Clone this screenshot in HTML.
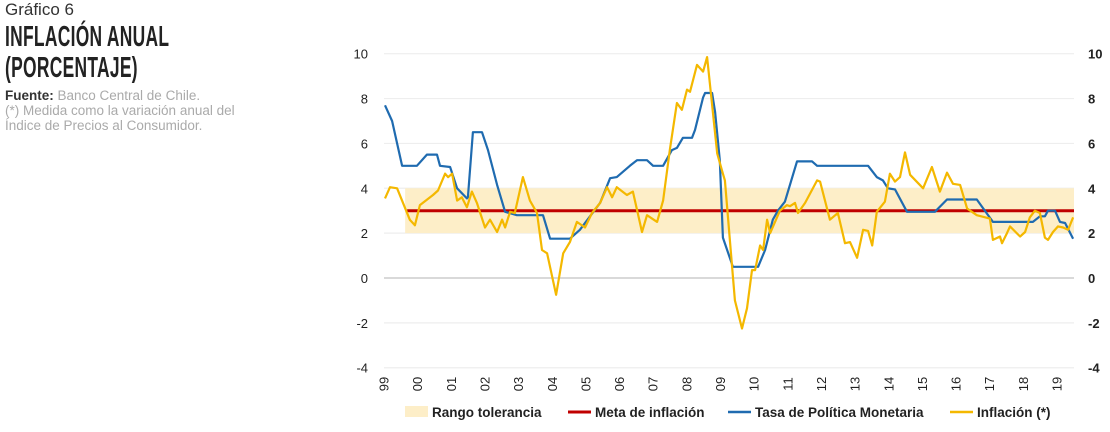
<!DOCTYPE html>
<html><head><meta charset="utf-8"><style>
body{margin:0;width:1110px;height:432px;background:#fff;overflow:hidden;font-family:"Liberation Sans",sans-serif;position:relative}
.t1{position:absolute;left:5px;top:0px;font-size:17px;color:#333}
.t2{position:absolute;left:5px;top:22px;font-size:29px;font-weight:bold;color:#222;line-height:31px;transform:scaleX(0.6);transform-origin:0 0;white-space:nowrap;letter-spacing:0.5px}
.src{position:absolute;left:5px;top:88px;font-size:13.5px;line-height:15px;color:#aaa;white-space:nowrap}
.src b{color:#333}
</style></head><body>
<div class="t1">Gráfico 6</div>
<div class="t2">INFLACIÓN ANUAL<br>(PORCENTAJE)</div>
<div class="src"><b>Fuente:</b> Banco Central de Chile.<br>(*) Medida como la variación anual del<br>Índice de Precios al Consumidor.</div>
<svg id="chart" width="1110" height="432" style="position:absolute;left:0;top:0"></svg>
<script>
const yTicks=[-4,-2,0,2,4,6,8,10];
const yearLabels=["99","00","01","02","03","04","05","06","07","08","09","10","11","12","13","14","15","16","17","18","19"];
const bandLow=2, bandHigh=4, bandStart=0.63, target=3, targetStart=0.69;
const tpmT=[0.03,0.24,0.54,0.98,1.28,1.58,1.67,1.97,2.18,2.47,2.50,2.65,2.92,3.10,3.37,3.61,3.96,4.74,4.95,5.54,5.84,6.44,6.74,6.94,7.33,7.54,7.84,8.02,8.32,8.58,8.73,8.91,9.18,9.27,9.51,9.57,9.78,9.87,10.01,10.10,10.40,11.15,11.36,11.59,11.74,11.95,12.31,12.76,12.91,14.43,14.69,14.87,15.02,15.23,15.59,16.42,16.78,17.67,18.15,19.34,19.55,19.70,19.79,20.00,20.15,20.30,20.54];
const tpmV=[7.7,7.0,5.0,5.0,5.5,5.5,5.0,4.95,4.0,3.55,3.6,6.5,6.5,5.7,4.15,2.95,2.8,2.8,1.75,1.75,2.15,3.35,4.45,4.5,5.0,5.25,5.25,5.0,5.0,5.7,5.8,6.25,6.25,6.6,8.05,8.25,8.25,7.4,5.25,1.8,0.5,0.5,1.25,2.6,3.0,3.4,5.2,5.2,5.0,5.0,4.5,4.35,4.0,3.95,2.95,2.95,3.5,3.5,2.5,2.5,2.75,2.75,3.0,3.0,2.5,2.45,1.75];
const infT=[0.03,0.18,0.39,0.77,0.92,1.07,1.46,1.61,1.82,1.91,2.03,2.18,2.32,2.47,2.62,2.77,3.01,3.16,3.37,3.52,3.61,3.76,3.90,4.14,4.35,4.56,4.71,4.86,5.13,5.34,5.54,5.75,5.99,6.20,6.44,6.65,6.80,6.94,7.24,7.42,7.69,7.84,8.14,8.32,8.52,8.73,8.88,9.03,9.12,9.33,9.51,9.63,9.93,10.10,10.16,10.46,10.67,10.82,10.97,11.06,11.21,11.30,11.42,11.51,11.80,12.01,12.10,12.25,12.34,12.55,12.91,13.00,13.29,13.53,13.74,13.89,14.10,14.28,14.43,14.55,14.69,14.93,15.08,15.23,15.38,15.53,15.68,16.07,16.33,16.57,16.78,16.96,17.17,17.38,17.67,18.06,18.15,18.36,18.42,18.57,18.66,18.96,19.11,19.25,19.40,19.55,19.70,19.79,19.94,20.09,20.24,20.39,20.54];
const infV=[3.55,4.05,4.0,2.6,2.35,3.25,3.7,3.9,4.65,4.5,4.65,3.45,3.6,3.15,3.85,3.35,2.25,2.6,2.05,2.6,2.25,2.95,2.9,4.5,3.45,2.9,1.25,1.1,-0.75,1.1,1.6,2.5,2.25,2.9,3.35,4.05,3.6,4.05,3.7,3.85,2.05,2.8,2.5,3.45,5.7,7.8,7.5,8.4,8.3,9.5,9.2,9.85,5.55,4.65,4.35,-1.0,-2.25,-1.35,0.35,0.35,1.45,1.25,2.6,2.0,3.0,3.25,3.2,3.35,2.9,3.35,4.35,4.3,2.6,2.9,1.55,1.6,0.9,2.15,2.1,1.45,2.95,3.4,4.65,4.3,4.5,5.6,4.6,4.0,4.95,3.85,4.7,4.2,4.15,3.1,2.8,2.65,1.7,1.85,1.55,2.0,2.3,1.85,2.05,2.7,3.0,2.9,1.8,1.7,2.05,2.3,2.25,2.15,2.7];

const NS="http://www.w3.org/2000/svg";
const svg=document.getElementById('chart');
const X0=384, XW=33.55, XEND=1074;
const x=t=>X0+t*XW;
const y=v=>278-v*22.43;
function mk(tag,attrs,txt){const e=document.createElementNS(NS,tag);for(const k in attrs)e.setAttribute(k,attrs[k]);if(txt!==undefined)e.textContent=txt;svg.appendChild(e);return e;}
yTicks.forEach(v=>{
  const g=mk('line',{x1:X0,x2:XEND,y1:y(v),y2:y(v),stroke:v===0?'#d9d9d9':'#eeeeee','stroke-width':v===0?2:1.2});
  
  
  const l=mk('text',{x:368,y:y(v)+5,'text-anchor':'end','font-size':13,fill:'#222'},String(v));
  
  
  const r=mk('text',{x:1088,y:y(v)+5,'text-anchor':'start','font-size':13,'font-weight':'bold',fill:'#222'},String(v));
  
  
});
const band=mk('rect',{x:x(bandStart),y:y(bandHigh),width:XEND-x(bandStart),height:y(bandLow)-y(bandHigh),fill:'#fdeec8'});


const tl=mk('line',{x1:x(targetStart),x2:XEND,y1:y(target),y2:y(target),stroke:'#c00000','stroke-width':3});


function path(T,V,color,name){
  const d=T.map((t,i)=>(i?'L':'M')+x(t).toFixed(1)+' '+y(V[i]).toFixed(1)).join(' ');
  const p=mk('path',{d:d,fill:'none',stroke:color,'stroke-width':2.2,'stroke-linejoin':'round'});
  
  
}
path(tpmT,tpmV,'#1f6bb0','tpm-line');
path(infT,infV,'#f4b800','inflation-line');
yearLabels.forEach((lb,i)=>{
  const cx=x(i)+i*0.1, cy=384;
  const t=mk('text',{x:cx,y:cy,'font-size':13,fill:'#222','text-anchor':'middle',transform:`rotate(-90 ${cx} ${cy})`,dy:4.5},lb);
  
  
});
const leg=[{type:'band',x:405,label:'Rango tolerancia',name:'legend-band'},{type:'line',c:'#c00000',x:568,label:'Meta de inflación',name:'legend-target'},{type:'line',c:'#1f6bb0',x:728,label:'Tasa de Política Monetaria',name:'legend-tpm'},{type:'line',c:'#f4b800',x:950,label:'Inflación (*)',name:'legend-inflation'}];
leg.forEach(o=>{
  if(o.type==='band'){const r=mk('rect',{x:o.x,y:406,width:23,height:11,fill:'#fdeec8'});}
  else{const l=mk('line',{x1:o.x,x2:o.x+23,y1:412,y2:412,stroke:o.c,'stroke-width':o.c==='#c00000'?3:2.5});}
  const t=mk('text',{x:o.x+27,y:417,'font-size':13.5,'font-weight':'bold',fill:'#222'},o.label);
  
  
});
</script>
</body></html>
